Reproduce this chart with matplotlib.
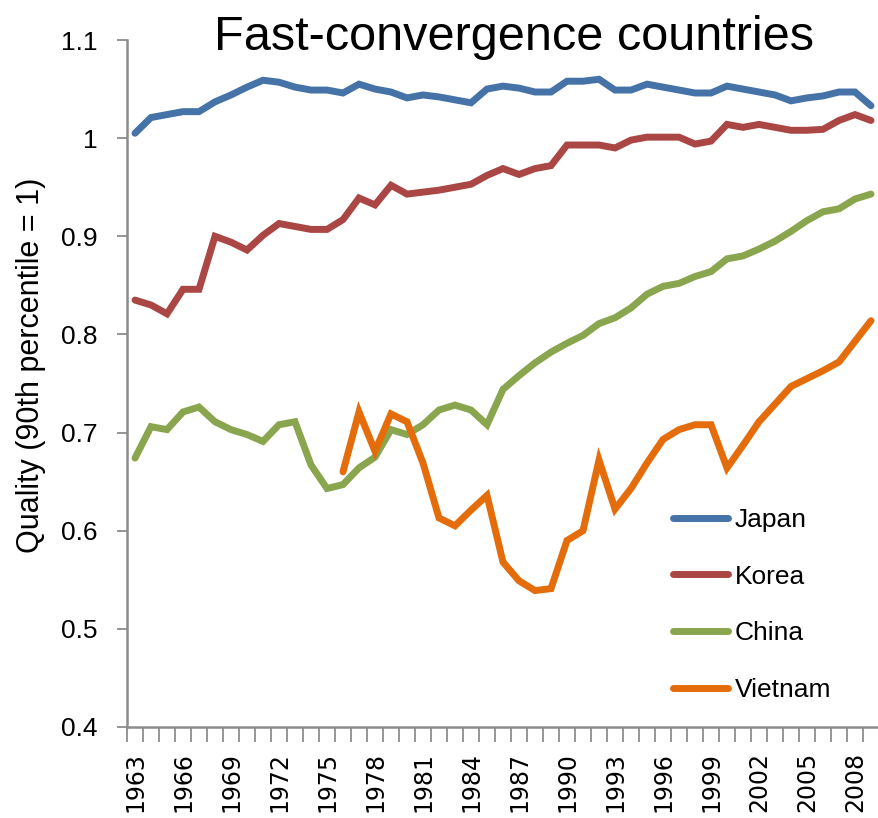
import numpy as np
import matplotlib
matplotlib.use("Agg")
import matplotlib.pyplot as plt

years = list(range(1963, 2010))

japan = [1.005, 1.021, 1.024, 1.027, 1.027, 1.037, 1.044, 1.052, 1.059, 1.057,
         1.052, 1.049, 1.049, 1.046, 1.055, 1.050, 1.047, 1.041, 1.044, 1.042,
         1.039, 1.036, 1.050, 1.053, 1.051, 1.047, 1.047, 1.058, 1.058, 1.060,
         1.049, 1.049, 1.055, 1.052, 1.049, 1.046, 1.046, 1.053, 1.050, 1.047,
         1.044, 1.038, 1.041, 1.043, 1.047, 1.047, 1.033]

korea = [0.835, 0.830, 0.821, 0.846, 0.846, 0.900, 0.894, 0.886, 0.901, 0.913,
         0.910, 0.907, 0.907, 0.917, 0.939, 0.932, 0.952, 0.943, 0.945, 0.947,
         0.950, 0.953, 0.962, 0.969, 0.963, 0.969, 0.972, 0.993, 0.993, 0.993,
         0.990, 0.998, 1.001, 1.001, 1.001, 0.994, 0.997, 1.014, 1.011, 1.014,
         1.011, 1.008, 1.008, 1.009, 1.018, 1.024, 1.018]

china = [0.674, 0.706, 0.703, 0.721, 0.726, 0.711, 0.703, 0.698, 0.691, 0.708,
         0.711, 0.667, 0.643, 0.647, 0.664, 0.675, 0.703, 0.698, 0.708, 0.723,
         0.728, 0.723, 0.708, 0.744, 0.758, 0.771, 0.782, 0.791, 0.799, 0.811,
         0.817, 0.827, 0.841, 0.849, 0.852, 0.859, 0.864, 0.877, 0.880, 0.887,
         0.895, 0.905, 0.916, 0.925, 0.928, 0.938, 0.943]

vietnam = [np.nan] * 13 + [
         0.660, 0.721, 0.681, 0.719, 0.711, 0.669, 0.613, 0.605, 0.621, 0.636,
         0.568, 0.549, 0.539, 0.541, 0.590, 0.600, 0.672, 0.622, 0.643, 0.669,
         0.693, 0.703, 0.708, 0.708, 0.664, 0.687, 0.711, 0.729, 0.747, 0.755,
         0.763, 0.772, 0.793, 0.814]

series = [("Japan", japan, "#4572A7"),
          ("Korea", korea, "#AA4643"),
          ("China", china, "#89A54E"),
          ("Vietnam", vietnam, "#E46C0A")]

plt.rcParams['font.family'] = ['Liberation Sans', 'DejaVu Sans']

fig = plt.figure(figsize=(8.79, 8.18), dpi=100)
ax = fig.add_axes([127 / 879, 1 - 727 / 818, 752 / 879, (727 - 40) / 818])

x = np.arange(len(years))
for name, vals, col in series:
    ax.plot(x, vals, color=col, lw=5, solid_capstyle='round',
            solid_joinstyle='miter', label=name)

ax.set_xlim(-0.5, len(years) - 0.5)
ax.set_ylim(0.4, 1.1)
ax.set_yticks(np.arange(0.4, 1.101, 0.1))
ax.set_yticklabels(["0.4", "0.5", "0.6", "0.7", "0.8", "0.9", "1", "1.1"])

tick_idx = x[::3]
ax.set_xticks(tick_idx)
ax.set_xticklabels([str(years[i]) for i in tick_idx], rotation=90,
                   family='DejaVu Sans')
ax.set_xticks(np.arange(-0.5, len(years)), minor=True)

gray = "#8C8C8C"
for s in ["top", "right"]:
    ax.spines[s].set_visible(False)
for s in ["left", "bottom"]:
    ax.spines[s].set_color(gray)
    ax.spines[s].set_linewidth(1.8)

ax.tick_params(axis='y', direction='out', length=7, width=1.3, color=gray,
               labelsize=19, pad=14)
ax.tick_params(axis='x', which='major', length=0, labelsize=17, pad=18)
ax.tick_params(axis='x', which='minor', direction='out', length=11, width=1.3,
               color=gray)

ax.set_ylabel("Quality (90th percentile = 1)", fontsize=22)
ax.yaxis.set_label_coords(-0.108, 0.527)
fig.text(514 / 879, 1 - 50 / 818, "Fast-convergence countries", fontsize=35,
         ha='center', va='baseline')

ax.legend(loc='upper left', bbox_to_anchor=(673 / 879, 1 - 508 / 818),
          bbox_transform=fig.transFigure, frameon=False, fontsize=19,
          handlelength=2.1, handletextpad=0.25, labelspacing=1.24,
          borderpad=0, borderaxespad=0)

fig.savefig("out.png", dpi=100)
